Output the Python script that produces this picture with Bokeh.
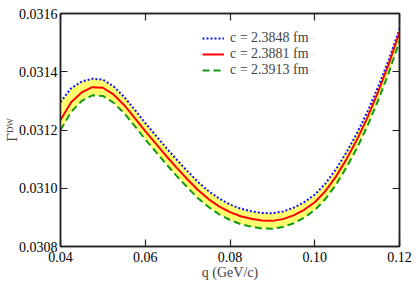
from bokeh.plotting import figure
from bokeh.models import (Legend, LegendItem, LinearAxis, FixedTicker,
                          PrintfTickFormatter, Range1d, ColumnDataSource,
                          CustomLabelingPolicy)
from bokeh.embed import file_html
from bokeh.resources import INLINE

# ---- data ----
q = [0.0400, 0.0425, 0.0450, 0.0475, 0.0500, 0.0525, 0.0550, 0.0575, 0.0600,
     0.0625, 0.0650, 0.0675, 0.0700, 0.0725, 0.0750, 0.0775, 0.0800, 0.0825,
     0.0850, 0.0875, 0.0900, 0.0925, 0.0950, 0.0975, 0.1000, 0.1025, 0.1050,
     0.1075, 0.1100, 0.1125, 0.1150, 0.1175, 0.1200]

gamma_c23881 = [0.031234, 0.031295, 0.031329, 0.031347, 0.031345, 0.031322, 0.031286,
                0.031242, 0.031196, 0.031153, 0.031110, 0.031069, 0.031030, 0.030993,
                0.030962, 0.030937, 0.030918, 0.030904, 0.030895, 0.030889, 0.030888,
                0.030894, 0.030907, 0.030926, 0.030952, 0.030990, 0.031040, 0.031100,
                0.031168, 0.031245, 0.031333, 0.031428, 0.031535]

gamma_c23848 = [0.031296, 0.031343, 0.031366, 0.031376, 0.031373, 0.031350, 0.031314,
                0.031270, 0.031224, 0.031181, 0.031138, 0.031097, 0.031058, 0.031021,
                0.030989, 0.030964, 0.030944, 0.030930, 0.030921, 0.030915, 0.030914,
                0.030920, 0.030933, 0.030952, 0.030978, 0.031016, 0.031065, 0.031124,
                0.031190, 0.031265, 0.031350, 0.031442, 0.031547]

gamma_c23913 = [0.031200, 0.031262, 0.031300, 0.031319, 0.031317, 0.031294, 0.031258,
                0.031214, 0.031168, 0.031125, 0.031082, 0.031041, 0.031002, 0.030965,
                0.030935, 0.030910, 0.030891, 0.030877, 0.030868, 0.030862, 0.030861,
                0.030867, 0.030880, 0.030899, 0.030925, 0.030963, 0.031012, 0.031072,
                0.031139, 0.031216, 0.031303, 0.031398, 0.031505]

labels = ["c = 2.3848 fm", "c = 2.3881 fm", "c = 2.3913 fm"]
x_ticks = [0.04, 0.06, 0.08, 0.10, 0.12]
y_ticks = [0.0308, 0.0310, 0.0312, 0.0314, 0.0316]

src = ColumnDataSource(dict(q=q, lo=gamma_c23913, mid=gamma_c23881, hi=gamma_c23848))

FONT = "Liberation Serif"
AX = "#222222"

p = figure(frame_width=339, frame_height=233,
           min_border_left=55, min_border_right=13, min_border_top=1, min_border_bottom=39,
           x_range=Range1d(0.04, 0.12), y_range=Range1d(0.0308, 0.0316),
           output_backend="svg", toolbar_location=None,
           x_axis_location=None, y_axis_location=None)
p.grid.visible = False
p.outline_line_color = AX
p.outline_line_width = 1.5
p.background_fill_color = "white"
p.border_fill_color = "white"

def style(ax, ticks, fmt, show_labels):
    ax.ticker = FixedTicker(ticks=ticks, num_minor_ticks=2)
    ax.formatter = PrintfTickFormatter(format=fmt)
    ax.axis_line_color = AX
    ax.axis_line_width = 1.5
    ax.major_tick_line_color = AX
    ax.minor_tick_line_color = AX
    ax.major_tick_line_width = 1.2
    ax.minor_tick_line_width = 1.2
    ax.major_tick_in = 7
    ax.major_tick_out = 0
    ax.minor_tick_in = 4
    ax.minor_tick_out = 0
    ax.major_label_text_font = FONT
    ax.major_label_text_color = "black"
    ax.major_label_text_font_size = "14px"
    if show_labels:
        ax.major_label_standoff = 5
    else:
        ax.major_label_standoff = 0
        ax.major_label_policy = CustomLabelingPolicy(
            code="return new indices.constructor(indices.size, 0)")

xb = LinearAxis(axis_label="q (GeV/c)")
style(xb, x_ticks, "%.2f", True)
xb.axis_label_text_font = FONT
xb.axis_label_text_font_size = "14px"
xb.axis_label_text_font_style = "normal"
xb.axis_label_standoff = 0
p.add_layout(xb, "below")

yl = LinearAxis(axis_label="Γᴰᵂ")
style(yl, y_ticks, "%.4f", True)
yl.major_label_standoff = 3
yl.axis_label_text_font = FONT
yl.axis_label_text_font_size = "15px"
yl.axis_label_text_font_style = "normal"
yl.axis_label_standoff = -4
p.add_layout(yl, "left")

xt = LinearAxis()
style(xt, x_ticks, "%.2f", False)
p.add_layout(xt, "above")

yr = LinearAxis()
style(yr, y_ticks, "%.4f", False)
p.add_layout(yr, "right")

p.varea(x="q", y1="lo", y2="hi", source=src, fill_color="#ffff70", fill_alpha=1.0)
r_hi = p.line(x="q", y="hi", source=src, line_color="#1010ff", line_width=2, line_dash="2 2")
r_mid = p.line(x="q", y="mid", source=src, line_color="#ff0000", line_width=2)
r_lo = p.line(x="q", y="lo", source=src, line_color="#119911", line_width=2, line_dash="7 4")

legend = Legend(items=[LegendItem(label=labels[0], renderers=[r_hi]),
                       LegendItem(label=labels[1], renderers=[r_mid]),
                       LegendItem(label=labels[2], renderers=[r_lo])],
                location=(142, 168), padding=0, spacing=-2, margin=0,
                glyph_width=22, glyph_height=12, label_height=12, label_standoff=6,
                label_text_font=FONT, label_text_font_size="14px",
                label_text_line_height=0.85,
                border_line_color=None, background_fill_alpha=0)
p.add_layout(legend, "center")

open("out.html", "w").write(file_html(p, INLINE))
